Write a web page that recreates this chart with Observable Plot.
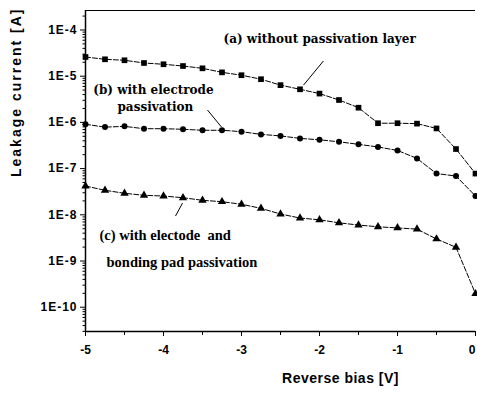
<!DOCTYPE html>
<html>
<head>
<meta charset="utf-8">
<script src="https://cdn.jsdelivr.net/npm/d3@7"></script>
<script src="https://cdn.jsdelivr.net/npm/@observablehq/plot@0.6"></script>
<style>
  html, body { margin: 0; padding: 0; background: #fff; overflow: hidden; }
</style>
</head>
<body>
<div id="chart"></div>
<script>
// Reverse bias values (V)
const volts = [-5, -4.75, -4.5, -4.25, -4, -3.75, -3.5, -3.25, -3, -2.75, -2.5,
               -2.25, -2, -1.75, -1.5, -1.25, -1, -0.75, -0.5, -0.25, 0];

// (a) without passivation layer
const seriesA = [2.6e-5, 2.32e-5, 2.21e-5, 1.93e-5, 1.81e-5, 1.66e-5, 1.48e-5, 1.21e-5, 1.05e-5, 8.6e-6, 6.4e-6,
                 5.2e-6, 4.2e-6, 3.05e-6, 2.08e-6, 9.6e-7, 9.6e-7, 9.4e-7, 7.4e-7, 2.65e-7, 7.8e-8];
// (b) with electrode passivation
const seriesB = [9.1e-7, 7.9e-7, 8.2e-7, 7.3e-7, 7.3e-7, 7.1e-7, 6.75e-7, 6.75e-7, 6.3e-7, 5.5e-7, 5.1e-7,
                 4.5e-7, 4.2e-7, 3.8e-7, 3.35e-7, 2.94e-7, 2.47e-7, 1.66e-7, 7.8e-8, 6.9e-8, 2.55e-8];
// (c) with electrode and bonding pad passivation
const seriesC = [4.2e-8, 3.39e-8, 2.92e-8, 2.64e-8, 2.55e-8, 2.34e-8, 2.06e-8, 1.92e-8, 1.69e-8, 1.38e-8, 1.04e-8,
                 8.5e-9, 7.8e-9, 6.7e-9, 6.0e-9, 5.5e-9, 5.2e-9, 4.9e-9, 3.0e-9, 1.98e-9, 1.96e-10];

const seriesNames = ["a", "b", "c"];
const seriesSymbols = ["square", "circle", "triangle"];
const seriesR = [3.2, 3, 3.1];

const xTicks = [-5, -4, -3, -2, -1, 0];
const xTickLabels = ["-5", "-4", "-3", "-2", "-1", "0"];
const xMinorTicks = [-4.5, -3.5, -2.5, -1.5, -0.5];

const yTicks = [1e-4, 1e-5, 1e-6, 1e-7, 1e-8, 1e-9, 1e-10];
const yTickLabels = ["1E-4", "1E-5", "1E-6", "1E-7", "1E-8", "1E-9", "1E-10"];

const yDomain = [2.98e-11, 2.64e-4];
const xDomain = [-5, 0];

const xTitle = "Reverse bias [V]";
const yTitle = "Leakage current [A]";

// annotation labels (anchored in data space)
const labelsAB = [
  {x: -3.23, y: 6.4e-5, text: "(a) without passivation layer"},
  {x: -4.90, y: 5.0e-6, text: "(b) with electrode"},
  {x: -4.59, y: 2.15e-6, text: "passivation"}
];
const labelsC = [
  {x: -4.82, y: 3.66e-9, text: "(c) with electode  and"},
  {x: -4.73, y: 9.5e-10, text: "bonding pad passivation"}
];
const pointers = [
  {x1: -1.95, y1: 2.13e-5, x2: -2.205, y2: 6.4e-6},
  {x1: -3.436, y1: 1.85e-6, x2: -3.256, y2: 7.9e-7},
  {x1: -3.846, y1: 9.4e-9, x2: -3.756, y2: 1.8e-8}
];

// build long table
const allSeries = [seriesA, seriesB, seriesC];
const rows = [];
allSeries.forEach((s, k) => s.forEach((val, i) => rows.push({v: volts[i], I: val, s: seriesNames[k]})));

// minor log ticks
const yMinor = [];
for (let e = -11; e <= -4; e++) {
  for (let m = 2; m <= 9; m++) {
    const t = m * Math.pow(10, e);
    if (t >= yDomain[0] && t <= yDomain[1]) yMinor.push(t);
  }
}

const marks = [];
seriesNames.forEach((name, k) => {
  const d = rows.filter(r => r.s === name);
  marks.push(Plot.line(d, {x: "v", y: "I", stroke: "black", strokeWidth: 1, strokeDasharray: "5,2"}));
  marks.push(Plot.dot(d, {x: "v", y: "I", symbol: seriesSymbols[k], r: seriesR[k], fill: "black", stroke: "none"}));
});

const sans = "'Liberation Sans', Arial, sans-serif";

const chart = Plot.plot({
  width: 477,
  height: 393,
  marginLeft: 85,
  marginRight: 2,
  marginTop: 10,
  marginBottom: 62,
  style: {background: "white", color: "black", fontFamily: sans, fontSize: "12px", fontWeight: "bold"},
  x: {domain: xDomain},
  y: {type: "log", domain: yDomain},
  marks: [
    Plot.ruleX([xDomain[0]], {stroke: "black", strokeWidth: 1.5}),
    Plot.ruleY([yDomain[1]], {stroke: "black", strokeWidth: 1.2}),
    Plot.ruleY([yDomain[0]], {stroke: "black", strokeWidth: 1.5}),
    Plot.axisY({ticks: yTicks, tickSize: 5, tickPadding: 3, label: null,
                tickFormat: d => yTickLabels[yTicks.findIndex(t => Math.abs(t - d) / t < 1e-6)]}),
    Plot.axisY({ticks: yMinor, tickSize: 2.5, label: null, tickFormat: () => ""}),
    Plot.axisX({ticks: xTicks, tickSize: 5, tickPadding: 9, label: null,
                tickFormat: d => xTickLabels[xTicks.indexOf(d)]}),
    Plot.axisX({ticks: xMinorTicks, tickSize: 4, label: null, tickFormat: () => ""}),
    ...marks,
    Plot.link(pointers, {x1: "x1", y1: "y1", x2: "x2", y2: "y2", stroke: "black", strokeWidth: 1}),
    Plot.text(labelsAB, {x: "x", y: "y", text: "text", textAnchor: "start", fontFamily: "'DejaVu Serif', serif", fontWeight: "bold", fontSize: 12}),
    Plot.text(labelsC, {x: "x", y: "y", text: "text", textAnchor: "start", fontFamily: "'Liberation Serif', serif", fontWeight: "bold", fontSize: 14.5}),
    Plot.text([yTitle], {frameAnchor: "left", dx: -69, dy: 6, rotate: -90, fontFamily: sans, fontWeight: "bold", fontSize: 14}),
    Plot.text([xTitle], {frameAnchor: "bottom", dx: 60, dy: 51, fontFamily: sans, fontWeight: "bold", fontSize: 14})
  ]
});

document.getElementById("chart").appendChild(chart);

// letter spacing and edge tweaks
d3.select(chart).selectAll("text").each(function() {
  const t = this.textContent;
  if (t === yTitle) this.style.letterSpacing = "2px";
  else if (t === xTitle) this.style.letterSpacing = "0.5px";
  else if (yTickLabels.includes(t)) this.style.letterSpacing = "1px";
  else if (t === xTickLabels[xTickLabels.length - 1]) { this.setAttribute("text-anchor", "end"); this.setAttribute("dx", "0"); }
});
</script>
</body>
</html>
